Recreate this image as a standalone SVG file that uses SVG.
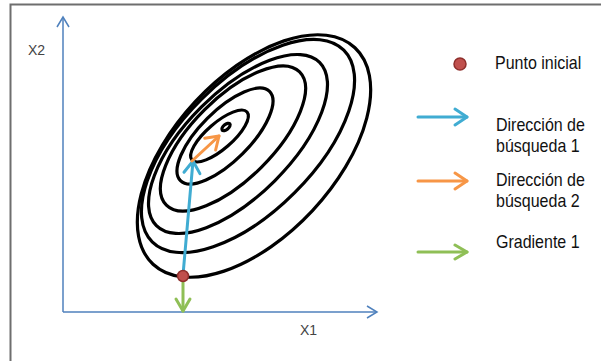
<svg xmlns="http://www.w3.org/2000/svg" width="601" height="361" viewBox="0 0 601 361">
  <style>
    .frame { stroke: #6e6e6e; stroke-width: 2; fill: none; }
    .axis { stroke: #4f81bd; stroke-width: 1.5; fill: none; }
    .ring { stroke: #000; stroke-width: 3.2; fill: none; }
    .arrow { stroke-width: 3; fill: none; stroke-linecap: round; }
    .blue { stroke: #40acd2; }
    .orange { stroke: #f79646; }
    .green { stroke: #8fbf56; }
    .lbl { font-family: "Liberation Sans", Arial, sans-serif; font-size: 18px; fill: #111; }
    .axlbl { font-family: "Liberation Sans", Arial, sans-serif; font-size: 14px; fill: #444; }
    .dot { fill: #c0504d; stroke: #8f2f2c; stroke-width: 1.5; }
  </style>
  <defs>
    <marker id="ax" markerUnits="userSpaceOnUse" viewBox="0 0 12 14" refX="10" refY="7" markerWidth="12" markerHeight="14" orient="auto" overflow="visible">
      <path d="M0,1 L10,7 L0,13" fill="none" stroke="#4f81bd" stroke-width="1.5"/>
    </marker>
    <marker id="mb" markerUnits="userSpaceOnUse" viewBox="0 0 12 16" refX="12" refY="8" markerWidth="12" markerHeight="16" orient="auto" overflow="visible">
      <path d="M0,0 L12,8 L0,16" fill="none" stroke="#40acd2" stroke-width="3" stroke-linecap="round" stroke-linejoin="round"/>
    </marker>
    <marker id="mo" markerUnits="userSpaceOnUse" viewBox="0 0 12 16" refX="12" refY="8" markerWidth="12" markerHeight="16" orient="auto" overflow="visible">
      <path d="M0,0 L12,8 L0,16" fill="none" stroke="#f79646" stroke-width="3" stroke-linecap="round" stroke-linejoin="round"/>
    </marker>
    <marker id="mg" markerUnits="userSpaceOnUse" viewBox="0 0 12 16" refX="12" refY="8" markerWidth="12" markerHeight="16" orient="auto" overflow="visible">
      <path d="M0,1 L12,8 L0,15" fill="none" stroke="#8fbf56" stroke-width="3" stroke-linecap="round" stroke-linejoin="round"/>
    </marker>
  </defs>
  <rect width="601" height="361" fill="#fff"/>
  <path id="frame" class="frame" d="M10.5,361 L10.5,4.5 L601,4.5"/>

  <g id="axes">
    <line class="axis" x1="63" y1="312" x2="63" y2="17" marker-end="url(#ax)"/>
    <line class="axis" x1="63" y1="312" x2="377" y2="312" marker-end="url(#ax)"/>
    <text class="axlbl" x="28" y="55">X2</text>
    <text class="axlbl" x="300" y="335">X1</text>
  </g>

  <g id="contours">
    <ellipse class="ring" cx="254" cy="156" rx="148" ry="80" transform="rotate(-47 254 156)"/>
    <ellipse class="ring" cx="248" cy="146" rx="135.5" ry="66" transform="rotate(-45 248 146)"/>
    <ellipse class="ring" cx="238" cy="144" rx="115.4" ry="52" transform="rotate(-45 238 144)"/>
    <ellipse class="ring" cx="233" cy="138.5" rx="94.2" ry="40.4" transform="rotate(-45 233 138.5)"/>
    <ellipse class="ring" cx="225" cy="136" rx="63" ry="25" transform="rotate(-45 225 136)"/>
    <ellipse class="ring" cx="219.5" cy="136" rx="36.5" ry="13" transform="rotate(-41 219.5 136)"/>
    <ellipse class="ring" cx="226" cy="127" rx="5" ry="2.5" transform="rotate(-40 226 127)"/>
  </g>

  <g id="connectors">
    <line class="arrow blue" x1="183" y1="275" x2="193" y2="161" marker-end="url(#mb)"/>
    <line class="arrow orange" x1="192" y1="161" x2="219" y2="136" marker-end="url(#mo)"/>
    <line class="arrow green" x1="183" y1="280" x2="183" y2="311" marker-end="url(#mg)"/>
  </g>

  <g id="start-point">
    <circle class="dot" cx="183" cy="276" r="5.5"/>
  </g>

  <g id="legend-start">
    <circle class="dot" cx="460" cy="64" r="6"/>
    <text class="lbl" transform="translate(495 69) scale(0.89 1)">Punto inicial</text>
  </g>
  <g id="legend-dir1">
    <line class="arrow blue" x1="418" y1="117" x2="467" y2="117" marker-end="url(#mb)"/>
    <text class="lbl" transform="translate(496 131) scale(0.89 1)">Dirección de</text>
    <text class="lbl" transform="translate(496 152) scale(0.89 1)">búsqueda 1</text>
  </g>
  <g id="legend-dir2">
    <line class="arrow orange" x1="418" y1="181" x2="467" y2="181" marker-end="url(#mo)"/>
    <text class="lbl" transform="translate(496 186) scale(0.89 1)">Dirección de</text>
    <text class="lbl" transform="translate(496 207) scale(0.89 1)">búsqueda 2</text>
  </g>
  <g id="legend-grad">
    <line class="arrow green" x1="418" y1="252" x2="467" y2="252" marker-end="url(#mg)"/>
    <text class="lbl" transform="translate(496 248) scale(0.89 1)">Gradiente 1</text>
  </g>
</svg>
